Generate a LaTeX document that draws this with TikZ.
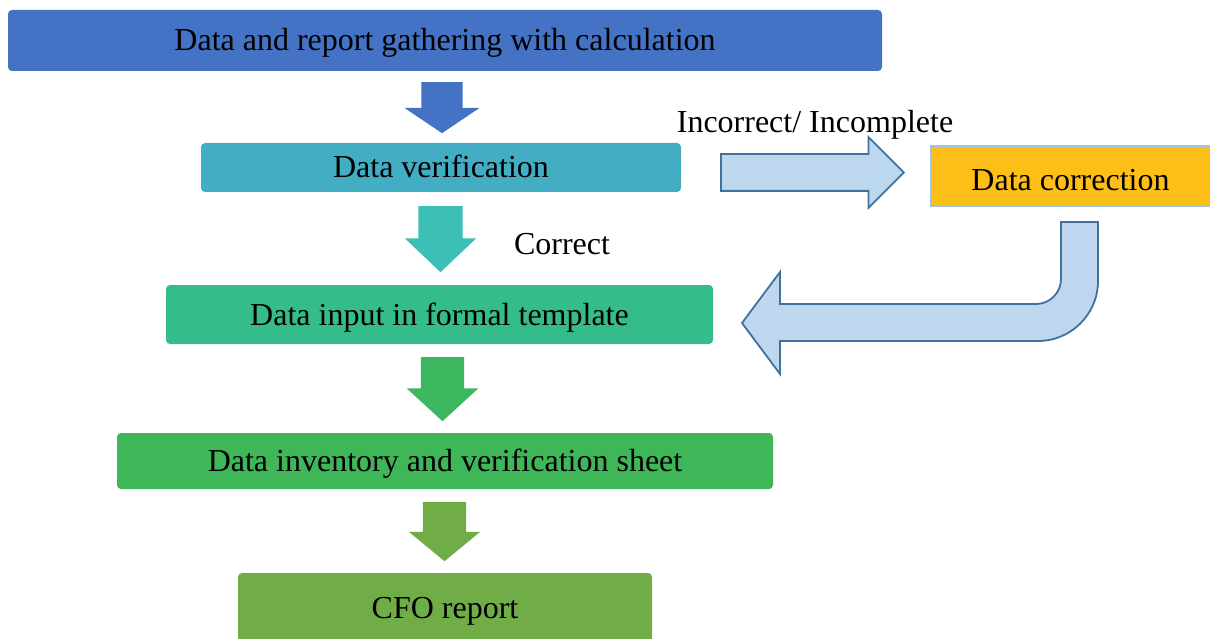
\documentclass[tikz,border=0pt]{standalone}
\usepackage{fontspec}
\setmainfont{Liberation Serif}
\usetikzlibrary{shapes.arrows}

\definecolor{gatherblue}{HTML}{4472C4}
\definecolor{verifyteal}{HTML}{42ADC3}
\definecolor{arrowteal}{HTML}{3CBFB5}
\definecolor{inputgreen}{HTML}{34BC8B}
\definecolor{arrowgreen}{HTML}{3DB660}
\definecolor{sheetgreen}{HTML}{3FB658}
\definecolor{reportgreen}{HTML}{70AD47}
\definecolor{fixorange}{HTML}{FDBF17}
\definecolor{fixborder}{HTML}{9DC3E6}
\definecolor{loopfill}{HTML}{BDD7EE}
\definecolor{loopline}{HTML}{41719C}

\tikzset{
  stage/.style={rectangle, rounded corners=4pt, inner sep=0pt,
    text height=25pt, text depth=4pt, font=\fontsize{32}{36}\selectfont},
  tag/.style={inner sep=0pt, text height=22pt, text depth=7pt,
    font=\fontsize{32}{36}\selectfont},
  downarrow/.style={single arrow, rotate=-90, anchor=tail, inner xsep=0pt, inner ysep=21.5pt,
    single arrow head extend=14pt},
  looparrow/.style={fill=loopfill, draw=loopline, line width=1.8pt, line join=miter}
}

\begin{document}
\begin{tikzpicture}[x=1pt, y=-1pt]
    \useasboundingbox (0,0) rectangle (1210,639);

    % process boxes
    \node[stage, fill=gatherblue, minimum width=874pt, minimum height=61pt] (gather) at (445,40.5) {Data and report gathering with calculation};
    \node[stage, fill=verifyteal, minimum width=480pt, minimum height=49pt] (verify) at (441,167.5) {Data verification};
    \node[stage, rounded corners=0pt, fill=fixorange, draw=fixborder, line width=1.5pt, text height=29pt, text depth=0pt, minimum width=279pt, minimum height=60pt] (fix) at (1070.5,176) {Data correction};
    \node[stage, fill=inputgreen, minimum width=547pt, minimum height=59pt] (input) at (439.5,314.5) {Data input in formal template};
    \node[stage, fill=sheetgreen, minimum width=656pt, minimum height=56pt] (sheet) at (445,461) {Data inventory and verification sheet};
    \node[stage, fill=reportgreen, minimum width=414pt, minimum height=70pt] (report) at (445,608) {CFO report};

    % down arrows
    \node[downarrow, fill=gatherblue, minimum height=51pt, inner ysep=20.5pt, single arrow head extend=17pt, single arrow tip angle=112] (a1) at (442,82) {};
    \node[downarrow, fill=arrowteal, minimum height=66pt, inner ysep=22pt, single arrow head extend=13.5pt, single arrow tip angle=93] (a2) at (440.5,206) {};
    \node[downarrow, fill=arrowgreen, minimum height=64pt, single arrow tip angle=95] (a3) at (442.5,357) {};
    \node[downarrow, fill=reportgreen, minimum height=59pt, single arrow tip angle=101] (a4) at (444.5,502) {};

    % labels
    \node[tag] (wrong) at (815,125) {Incorrect/ Incomplete};
    \node[tag] (right) at (562,247) {Correct};

    % to correction and back
    \node[single arrow, anchor=tail, inner xsep=0pt, inner ysep=17.5pt, looparrow, minimum height=183pt, single arrow head extend=17pt, single arrow tip angle=90] (tofix) at (720,172.5) {};
    \draw[looparrow] (1061,222) -- (1061,279)
        .. controls (1061,292.8) and (1049.8,304) .. (1036,304)
        -- (780,304) -- (780,272) -- (742,323) -- (780,374) -- (780,341) -- (1038,341)
        .. controls (1071.1,341) and (1098,314.1) .. (1098,281)
        -- (1098,222) -- cycle;

\end{tikzpicture}
\end{document}
